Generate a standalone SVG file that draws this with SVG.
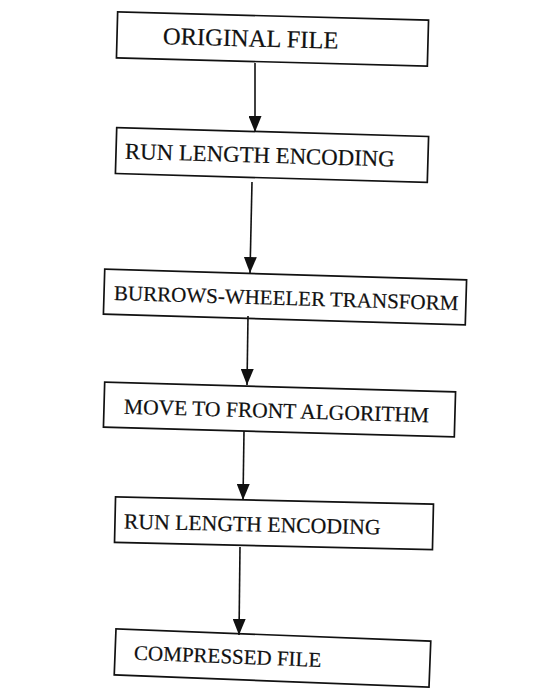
<svg xmlns="http://www.w3.org/2000/svg" width="536" height="688" viewBox="0 0 536 688">
  <style>
    .box { fill: #ffffff; stroke: #111111; stroke-width: 1.7; }
    .label { font-family: "Liberation Serif", "Times New Roman", serif; font-size: 22px; fill: #111111; stroke: #111111; stroke-width: 0.2; }
    .edge { stroke: #111111; stroke-width: 1.6; fill: none; marker-end: url(#arrow); }
  </style>
  <defs>
    <!-- solid triangular arrowhead, tip at the end of the line -->
    <marker id="arrow" markerUnits="userSpaceOnUse" markerWidth="16" markerHeight="13" viewBox="0 0 16 13" refX="16" refY="6.5" orient="auto">
      <path d="M0,0 L16,6.5 L0,13 Z" fill="#111111"/>
    </marker>
  </defs>
  <rect width="536" height="688" fill="#ffffff"/>

  <!-- process steps -->
  <g id="original-file" transform="rotate(1.5 272.5 39)">
    <rect class="box" x="117" y="16" width="311" height="46"/>
    <text class="label" x="163" y="47" style="font-size:24.5px">ORIGINAL FILE</text>
  </g>
  <g id="rle-1" transform="rotate(1.65 272 155)">
    <rect class="box" x="116" y="132" width="312" height="46"/>
    <text class="label" x="125" y="163" style="font-size:22.8px">RUN LENGTH ENCODING</text>
  </g>
  <g id="bwt" transform="rotate(1.7 285 297)">
    <rect class="box" x="104" y="274.5" width="362" height="45"/>
    <text class="label" x="114" y="305" style="font-size:21px">BURROWS-WHEELER TRANSFORM</text>
  </g>
  <g id="mtf" transform="rotate(1.6 279.5 409.5)">
    <rect class="box" x="104" y="387" width="351" height="45"/>
    <text class="label" x="124" y="418" style="font-size:21.5px">MOVE TO FRONT ALGORITHM</text>
  </g>
  <g id="rle-2" transform="rotate(1.3 274 523)">
    <rect class="box" x="115" y="500.5" width="318" height="45.5"/>
    <text class="label" x="124" y="532" style="font-size:21.7px">RUN LENGTH ENCODING</text>
  </g>
  <g id="compressed-file" transform="rotate(2.2 272.5 658)">
    <rect class="box" x="115" y="635" width="315" height="46"/>
    <text class="label" x="134" y="665" style="font-size:21px">COMPRESSED FILE</text>
  </g>

  <!-- flow arrows -->
  <g id="connectors">
    <line class="edge" x1="255" y1="63" x2="255" y2="132"/>
    <line class="edge" x1="252" y1="182" x2="250" y2="273"/>
    <line class="edge" x1="248" y1="316" x2="247" y2="385"/>
    <line class="edge" x1="244" y1="431" x2="243" y2="500"/>
    <line class="edge" x1="240" y1="547" x2="239" y2="635"/>
  </g>
</svg>
